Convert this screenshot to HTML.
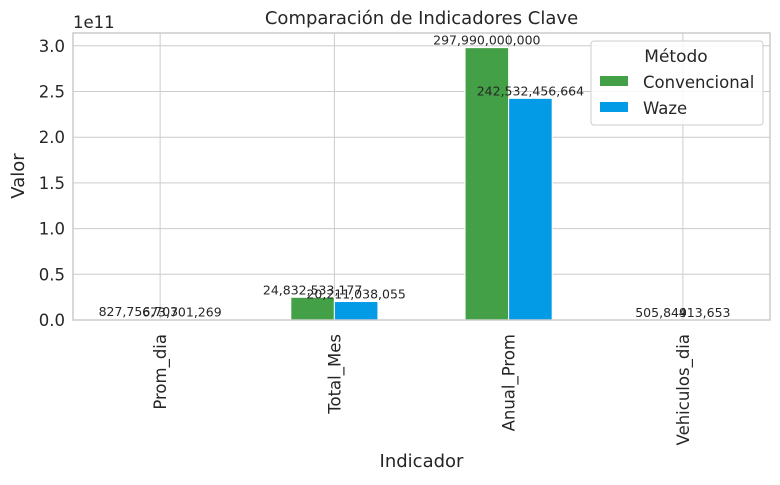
<!DOCTYPE html>
<html><head><meta charset="utf-8"><style>
body{margin:0;background:#fff;font-family:"Liberation Sans","DejaVu Sans",sans-serif}
</style></head><body>
<svg id="c" width="780" height="480" xmlns="http://www.w3.org/2000/svg" font-family="DejaVu Sans, Liberation Sans, sans-serif"></svg>
<script>
const categories=["Prom_dia","Total_Mes","Anual_Prom","Vehiculos_dia"];
const convencional=[827756703,24832533177,297990000000,505849];
const waze=[673701269,20211038055,242532456664,413653];
const yTicks=[0,0.5,1.0,1.5,2.0,2.5,3.0];
const NS="http://www.w3.org/2000/svg";
const svg=document.getElementById('c');
const L=73,R=770,T=33,B=320,ymax=3.1401e11;
const y=v=>B-(v/ymax)*(B-T);
const bw=(R-L)/categories.length;
const xc=i=>L+bw*(i+0.5);
function el(t,a,txt){const e=document.createElementNS(NS,t);for(const k in a)e.setAttribute(k,a[k]);if(txt!==undefined)e.textContent=txt;svg.appendChild(e);return e;}
const fmt=v=>Math.round(v).toLocaleString('en-US');
yTicks.forEach(t=>{
 const g=el('line',{x1:L,x2:R,y1:y(t*1e11),y2:y(t*1e11),stroke:'#cccccc','stroke-width':1});
 
 
 const tx=el('text',{x:L-8,y:y(t*1e11)+6,'text-anchor':'end','font-size':16.5,fill:'#262626'},t.toFixed(1));
 
 
});
categories.forEach((c,i)=>{
 const g=el('line',{x1:xc(i),x2:xc(i),y1:T,y2:B,stroke:'#cccccc','stroke-width':1});
 
 
 const tx=el('text',{transform:`translate(${xc(i)+6},334) rotate(-90)`,'text-anchor':'end','font-size':16.5,fill:'#262626'},c);
 
 
});
const w=bw*0.25;
categories.forEach((c,i)=>{
 [[convencional,'#43a047',-1],[waze,'#039be5',0]].forEach(([arr,col,off],k)=>{
  const x0=xc(i)+off*w;
  const r=el('rect',{x:x0,y:y(arr[i]),width:w,height:B-y(arr[i]),fill:col,stroke:'#fff','stroke-width':1});
  
  
  const t=el('text',{x:x0+w/2,y:y(arr[i])-3,'text-anchor':'middle','font-size':12.5,fill:'#262626'},fmt(arr[i]));
  
  
 });
});
const fr=el('rect',{x:L,y:T,width:R-L,height:B-T,fill:'none',stroke:'#cccccc','stroke-width':1.5});


let t;
t=el('text',{x:(L+R)/2,y:24,'text-anchor':'middle','font-size':18,fill:'#262626'},'Comparación de Indicadores Clave');


t=el('text',{x:73,y:28,'font-size':16.5,fill:'#262626'},'1e11');


t=el('text',{transform:'translate(24,176) rotate(-90)','text-anchor':'middle','font-size':18,fill:'#262626'},'Valor');


t=el('text',{x:(L+R)/2,y:467,'text-anchor':'middle','font-size':18,fill:'#262626'},'Indicador');


const lg=el('rect',{x:591,y:41,width:172,height:84,rx:3,fill:'#fff','fill-opacity':0.85,stroke:'#cccccc'});


t=el('text',{x:676,y:62,'text-anchor':'middle','font-size':17,fill:'#262626'},'Método');


[['Convencional','#43a047',82],['Waze','#039be5',108]].forEach(([n,c,yy])=>{
 const r=el('rect',{x:600,y:yy-6,width:28,height:10,fill:c});
 
 
 const tx=el('text',{x:643,y:yy+6,'font-size':16.5,fill:'#262626'},n);
 
 
});
</script>
</body></html>
